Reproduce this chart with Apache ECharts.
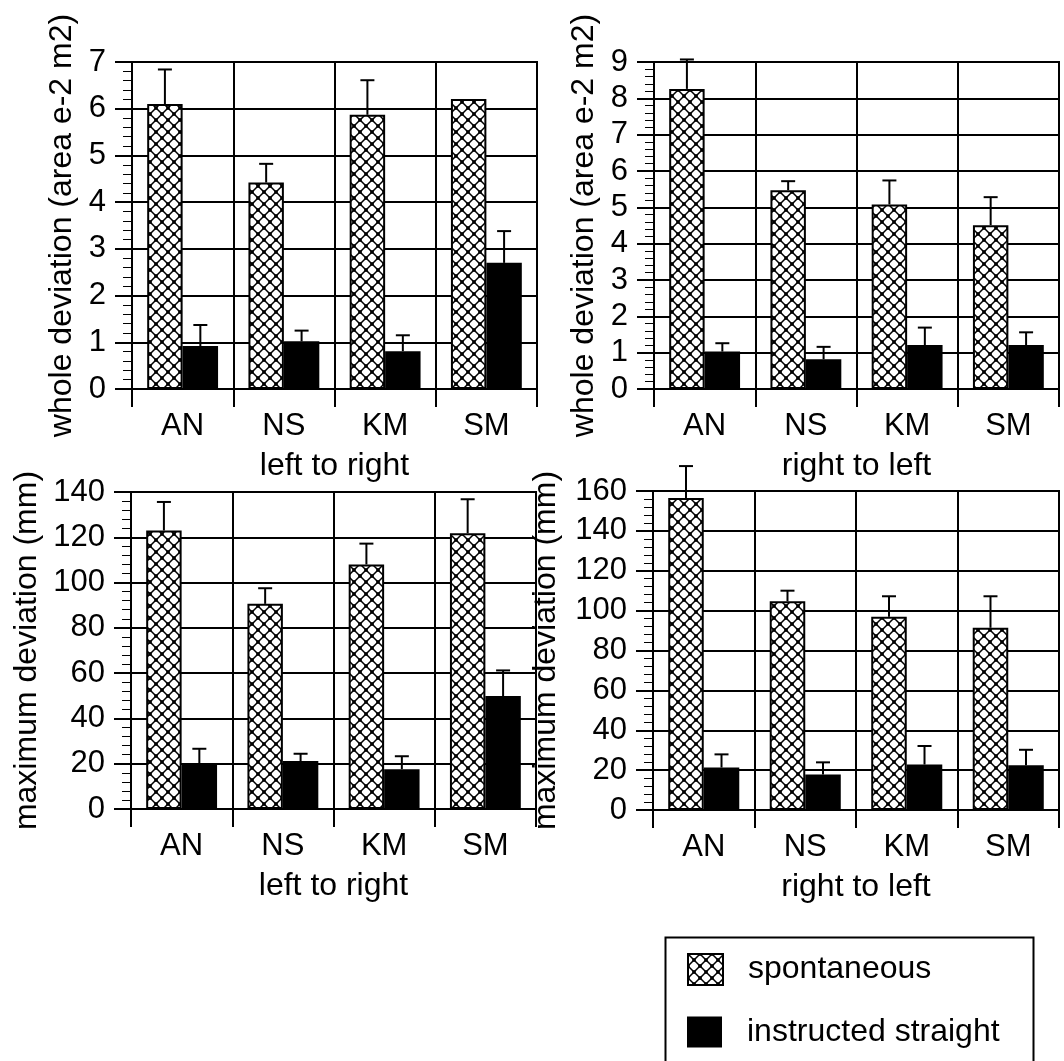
<!DOCTYPE html>
<html>
<head>
<meta charset="utf-8">
<title>whole / maximum deviation</title>
<script src="https://cdn.jsdelivr.net/npm/echarts@6/dist/echarts.min.js"></script>
<style>
  html, body { margin: 0; padding: 0; background: #fff; }
  #main { width: 1064px; height: 1061px; }
</style>
</head>
<body>
<div id="main"></div>
<script>
var categories = ['AN', 'NS', 'KM', 'SM'];
var seriesNames = ['spontaneous', 'instructed straight'];

// top left: whole deviation, left to right
var wholeLR_spont = [6.10, 4.42, 5.87, 6.21];
var wholeLR_spontErr = [6.84, 4.82, 6.61, null];
var wholeLR_instr = [0.92, 1.02, 0.81, 2.70];
var wholeLR_instrErr = [1.37, 1.25, 1.15, 3.38];

// top right: whole deviation, right to left
var wholeRL_spont = [8.26, 5.47, 5.08, 4.51];
var wholeRL_spontErr = [9.07, 5.72, 5.74, 5.28];
var wholeRL_instr = [1.03, 0.82, 1.21, 1.21];
var wholeRL_instrErr = [1.26, 1.16, 1.69, 1.56];

// bottom left: maximum deviation, left to right
var maxLR_spont = [123.0, 90.6, 108.0, 121.8];
var maxLR_spontErr = [135.6, 97.5, 117.2, 136.8];
var maxLR_instr = [19.8, 21.2, 17.6, 49.9];
var maxLR_instrErr = [26.6, 24.4, 23.3, 61.2];

// bottom right: maximum deviation, right to left
var maxRL_spont = [156.5, 104.7, 96.9, 91.4];
var maxRL_spontErr = [172.5, 110.0, 107.2, 107.2];
var maxRL_instr = [21.3, 17.8, 22.8, 22.4];
var maxRL_instrErr = [27.9, 23.9, 32.1, 30.2];

// y scales
var wholeLR_max = 7, wholeRL_max = 9, maxLR_max = 140, maxRL_max = 160;
var wholeStep = 1, maxStep = 20;

var FONT = '"Liberation Sans", Arial, Helvetica, sans-serif';
var LABEL_SIZE = 31, NAME_SIZE = 32;

function makeHatch() {
    var s = 12;
    var c = document.createElement('canvas');
    c.width = s; c.height = s;
    var g = c.getContext('2d');
    g.fillStyle = '#fff';
    g.fillRect(0, 0, s, s);
    g.strokeStyle = '#000';
    g.lineWidth = 1.5;
    g.beginPath();
    g.moveTo(0, 0); g.lineTo(s, s);
    g.moveTo(s, 0); g.lineTo(0, s);
    g.stroke();
    // dots where the lines cross
    g.fillStyle = '#000';
    var d = 3.5;
    g.fillRect(s / 2 - d / 2, s / 2 - d / 2, d, d);
    g.fillRect(-d / 2, -d / 2, d, d);
    g.fillRect(s - d / 2, -d / 2, d, d);
    g.fillRect(-d / 2, s - d / 2, d, d);
    g.fillRect(s - d / 2, s - d / 2, d, d);
    return c;
}
var hatch = { image: makeHatch(), repeat: 'repeat' };

function errorBar(side) {
    return function (params, api) {
        var k = api.value(0);
        var base = api.coord([k, api.value(1)]);
        var tip = api.coord([k, api.value(2)]);
        var band = api.size([1, 0])[0];
        var cx = base[0] + side * band * 0.175;
        var st = { stroke: '#000', lineWidth: 2 };
        return {
            type: 'group',
            children: [
                { type: 'line', shape: { x1: cx, y1: base[1], x2: cx, y2: tip[1] }, style: st },
                { type: 'line', shape: { x1: cx - 7, y1: tip[1], x2: cx + 7, y2: tip[1] }, style: st }
            ]
        };
    };
}

function errData(vals, tops) {
    var out = [];
    for (var k = 0; k < vals.length; k++) {
        if (tops[k] != null) out.push([k, vals[k], tops[k]]);
    }
    return out;
}

var panels = [
    { box: { left: 132, top: 62, width: 405, height: 327 }, xName: 'left to right',
      yName: 'whole deviation (area e-2 m2)', yMax: wholeLR_max, step: wholeStep, nameGap: 54,
      spont: wholeLR_spont, spontErr: wholeLR_spontErr, instr: wholeLR_instr, instrErr: wholeLR_instrErr },
    { box: { left: 654, top: 62, width: 405, height: 327 }, xName: 'right to left',
      yName: 'whole deviation (area e-2 m2)', yMax: wholeRL_max, step: wholeStep, nameGap: 54,
      spont: wholeRL_spont, spontErr: wholeRL_spontErr, instr: wholeRL_instr, instrErr: wholeRL_instrErr },
    { box: { left: 131, top: 492, width: 405, height: 317 }, xName: 'left to right',
      yName: 'maximum deviation (mm)', yMax: maxLR_max, step: maxStep, nameGap: 88,
      spont: maxLR_spont, spontErr: maxLR_spontErr, instr: maxLR_instr, instrErr: maxLR_instrErr },
    { box: { left: 653, top: 491, width: 406, height: 319 }, xName: 'right to left',
      yName: 'maximum deviation (mm)', yMax: maxRL_max, step: maxStep, nameGap: 91,
      spont: maxRL_spont, spontErr: maxRL_spontErr, instr: maxRL_instr, instrErr: maxRL_instrErr }
];

var black = { color: '#000', width: 2 };
var grids = [], xAxes = [], yAxes = [], series = [];

panels.forEach(function (p, i) {
    grids.push({
        left: p.box.left, top: p.box.top, width: p.box.width, height: p.box.height,
        show: true, borderColor: '#000', borderWidth: 2, backgroundColor: 'transparent'
    });
    xAxes.push({
        type: 'category', gridIndex: i, data: categories,
        axisLine: { lineStyle: black },
        axisTick: { show: true, length: 18, lineStyle: black },
        splitLine: { show: true, lineStyle: black },
        axisLabel: { margin: 22, fontSize: LABEL_SIZE, color: '#000', fontFamily: FONT },
        name: p.xName, nameLocation: 'middle', nameGap: 61,
        nameTextStyle: { fontSize: NAME_SIZE, color: '#000', fontFamily: FONT }
    });
    yAxes.push({
        type: 'value', gridIndex: i, min: 0, max: p.yMax, interval: p.step,
        axisLine: { show: true, lineStyle: black },
        axisTick: { show: true, length: 17, lineStyle: black },
        minorTick: { show: true, splitNumber: 5, length: 9, lineStyle: { color: '#000', width: 1 } },
        splitLine: { show: true, lineStyle: black },
        axisLabel: { margin: 26, fontSize: LABEL_SIZE, color: '#000', fontFamily: FONT },
        name: p.yName, nameLocation: 'middle', nameGap: p.nameGap,
        nameTextStyle: { fontSize: NAME_SIZE, color: '#000', fontFamily: FONT }
    });
    series.push({
        name: seriesNames[0], type: 'bar', xAxisIndex: i, yAxisIndex: i,
        data: p.spont, barWidth: '35%', barGap: '0%',
        itemStyle: { color: hatch, borderColor: '#000', borderWidth: 2 },
        emphasis: { disabled: true }
    });
    series.push({
        name: seriesNames[1], type: 'bar', xAxisIndex: i, yAxisIndex: i,
        data: p.instr, barWidth: '35%', barGap: '0%',
        itemStyle: { color: '#000' },
        emphasis: { disabled: true }
    });
    series.push({
        type: 'custom', xAxisIndex: i, yAxisIndex: i, clip: false, z: 5,
        renderItem: errorBar(-1), data: errData(p.spont, p.spontErr)
    });
    series.push({
        type: 'custom', xAxisIndex: i, yAxisIndex: i, clip: false, z: 5,
        renderItem: errorBar(1), data: errData(p.instr, p.instrErr)
    });
});

function legendRow(name, top) {
    return {
        data: [name], left: 687, top: top, padding: 0,
        icon: 'rect', itemWidth: 35, itemHeight: 31,
        textStyle: { fontSize: NAME_SIZE, color: '#000', fontFamily: FONT, padding: [0, 0, 0, 20] }
    };
}

var chart = echarts.init(document.getElementById('main'));
chart.setOption({
    backgroundColor: '#fff',
    animation: false,
    legend: [legendRow(seriesNames[0], 953), legendRow(seriesNames[1], 1016)],
    graphic: [{
        type: 'rect', left: 663, top: 935, silent: true,
        shape: { width: 368, height: 180 },
        style: { fill: 'none', stroke: '#000', lineWidth: 2 }
    }],
    grid: grids,
    xAxis: xAxes,
    yAxis: yAxes,
    series: series
});
</script>
</body>
</html>
